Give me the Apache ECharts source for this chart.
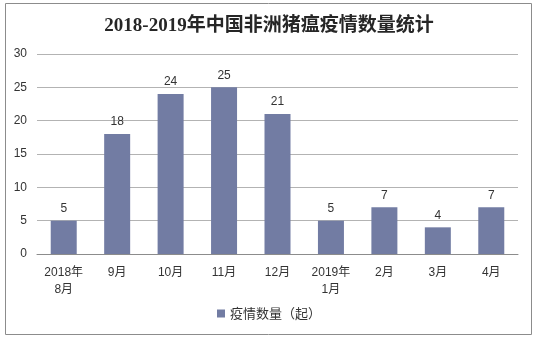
<!DOCTYPE html>
<html><head><meta charset="utf-8">
<script src="https://cdn.jsdelivr.net/npm/echarts@6/dist/echarts.min.js"></script>
<style>html,body{margin:0;padding:0;background:#fff}#c{width:538px;height:339px}</style>
</head><body><div id="c"></div>
<script>
var categories = ['2018年\n8月','9月','10月','11月','12月','2019年\n1月','2月','3月','4月'];
var seriesName = '疫情数量（起）';
var values = [5,18,24,25,21,5,7,4,7];
var yTicks = {min:0, max:30, interval:5};

var chart = echarts.init(document.getElementById('c'));
chart.setOption({
  animation:false,
  title:{text:'2018-2019年中国非洲猪瘟疫情数量统计', left:'center', top:12,
    textStyle:{fontFamily:'"Liberation Serif","Noto Sans CJK SC"', fontSize:19, fontWeight:'bold', color:'#262626'}},
  graphic:[{type:'rect', shape:{x:5.5,y:3.5,width:526,height:331}, style:{fill:'none', stroke:'#8c8c8c', lineWidth:1}, silent:true}],
  legend:{bottom:14, left:'center', itemWidth:8, itemHeight:8, itemGap:4, icon:'rect',
    textStyle:{fontFamily:'"Noto Sans CJK SC"', fontSize:13, color:'#333'}},
  grid:{left:37, right:20, top:54, bottom:85},
  xAxis:{type:'category', data:categories,
    axisLine:{lineStyle:{color:'#8c8c8c'}},
    axisTick:{lineStyle:{color:'#8c8c8c'}, length:4},
    axisLabel:{fontFamily:'"Liberation Sans","Noto Sans CJK SC"', fontSize:12, color:'#333', lineHeight:17, margin:10}},
  yAxis:{type:'value', min:yTicks.min, max:yTicks.max, interval:yTicks.interval,
    axisLine:{show:false}, axisTick:{show:false},
    splitLine:{lineStyle:{color:'#b3b3b3'}},
    axisLabel:{fontFamily:'"Liberation Sans"', fontSize:12, color:'#333', margin:10}},
  series:[{type:'bar', name:seriesName, data:values, barWidth:26,
    itemStyle:{color:'#727ca3'},
    label:{show:true, position:'top', distance:6, fontFamily:'"Liberation Sans"', fontSize:12, color:'#333'}}]
});
</script></body></html>
